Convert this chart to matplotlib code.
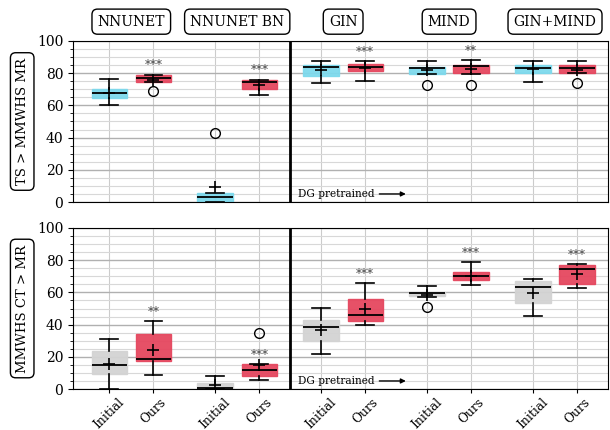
import numpy as np
import matplotlib
matplotlib.use('Agg')
import matplotlib.pyplot as plt
from matplotlib.ticker import MultipleLocator

plt.rcParams['font.family'] = 'DejaVu Serif'

methods = ['NNUNET', 'NNUNET BN', 'GIN', 'MIND', 'GIN+MIND']
tick_names = ['Initial', 'Ours']
rows = ['TS > MMWHS MR', 'MMWHS CT > MR']

# per row: [Initial, Ours] for each method -> 10 boxes
# TS > MMWHS MR
top_q1 = [64.6, 74.4, 0.0, 70.2, 78.4, 81.3, 79.8, 80.2, 80.0, 80.2]
top_med = [67.5, 76.9, 3.3, 74.8, 83.6, 84.0, 83.1, 84.6, 83.1, 83.3]
top_q3 = [70.2, 78.6, 5.9, 76.0, 85.0, 85.9, 83.8, 85.2, 85.0, 84.8]
top_lo = [60.2, 74.4, 0.0, 66.3, 74.2, 75.4, 79.4, 79.8, 74.6, 80.2]
top_hi = [76.7, 79.0, 5.8, 76.0, 87.3, 87.5, 87.3, 87.9, 87.5, 87.3]
top_mean = [67.5, 75.6, 9.2, 72.9, 81.9, 83.1, 81.7, 82.3, 82.3, 82.1]
top_fliers = [[], [69.2], [42.7], [], [], [], [72.9], [72.7], [], [74.2]]
top_stars = ['', '***', '', '***', '', '***', '', '**', '', '']

# MMWHS CT > MR
bot_q1 = [9.5, 17.2, 0.0, 8.1, 30.0, 42.2, 57.7, 67.5, 53.2, 65.0]
bot_med = [14.9, 18.8, 0.6, 12.0, 38.5, 46.1, 59.4, 69.9, 63.1, 74.3]
bot_q3 = [23.6, 34.3, 3.5, 15.3, 42.9, 55.9, 60.4, 72.7, 67.3, 77.2]
bot_lo = [0.0, 8.9, 0.0, 5.4, 21.7, 39.5, 57.3, 64.3, 45.5, 62.5]
bot_hi = [30.8, 42.2, 7.8, 15.3, 50.3, 65.6, 64.0, 78.6, 68.5, 77.4]
bot_mean = [15.7, 24.2, 2.5, 14.9, 36.8, 49.7, 58.6, 70.4, 59.8, 71.4]
bot_fliers = [[], [], [], [34.8], [], [], [51.1], [], [], []]
bot_stars = ['', '**', '', '***', '', '***', '', '***', '', '***']

cyan = '#7dd9ec'
red = '#e5475f'
grey = '#d3d3d3'

positions = []
for i in range(len(methods)):
    positions += [2.4 * i, 2.4 * i + 1]

fig = plt.figure(figsize=(6.1, 4.3), dpi=100)
ax1 = fig.add_axes([0.1197, 0.5302, 0.877, 0.3745])
ax2 = fig.add_axes([0.1197, 0.0953, 0.877, 0.3745])


def draw(ax, q1, med, q3, lo, hi, mean, fliers, stars, init_color):
    stats = []
    for k in range(len(q1)):
        stats.append(dict(q1=q1[k], med=med[k], q3=q3[k], whislo=lo[k],
                          whishi=hi[k], mean=mean[k], fliers=fliers[k]))
    bp = ax.bxp(stats, positions=positions, widths=0.8, patch_artist=True,
                showmeans=True, manage_ticks=False,
                meanprops=dict(marker='+', markeredgecolor='black', markersize=8,
                               markeredgewidth=1.2),
                medianprops=dict(color='black', linewidth=1.3),
                whiskerprops=dict(color='black', linewidth=1.2),
                capprops=dict(color='black', linewidth=1.2),
                flierprops=dict(marker='o', markerfacecolor='none',
                                markeredgecolor='black', markersize=7))
    for k, box in enumerate(bp['boxes']):
        c = init_color if k % 2 == 0 else red
        box.set_facecolor(c)
        box.set_edgecolor(c)
        box.set_alpha(0.95)
        box.set_linewidth(1)
    for k, s in enumerate(stars):
        if s:
            ax.text(positions[k], hi[k] + 1.5, s, ha='center', va='bottom',
                    fontsize=8.5, color='#444444')

    ax.set_ylim(0, 100)
    ax.set_xlim(-0.82, 11.3)
    ax.yaxis.set_major_locator(MultipleLocator(20))
    ax.yaxis.set_minor_locator(MultipleLocator(5))
    ax.set_xticks(positions)
    ax.grid(True, which='major', axis='y', color='#b0b0b0', linewidth=1)
    ax.grid(True, which='minor', axis='y', color='#d8d8d8', linewidth=0.8)
    ax.grid(True, which='major', axis='x', color='#cccccc', linewidth=0.8)
    ax.set_axisbelow(True)
    ax.axvline(4.1, color='black', linewidth=2)
    ax.annotate('', xy=(6.72, 5), xytext=(6.12, 5),
                arrowprops=dict(arrowstyle='-|>', color='black', lw=1,
                                mutation_scale=7, shrinkA=0, shrinkB=0))
    ax.text(4.28, 5, 'DG pretrained', fontsize=7.6, va='center', ha='left')
    ax.tick_params(axis='y', labelsize=10)


draw(ax1, top_q1, top_med, top_q3, top_lo, top_hi, top_mean, top_fliers,
     top_stars, cyan)
draw(ax2, bot_q1, bot_med, bot_q3, bot_lo, bot_hi, bot_mean, bot_fliers,
     bot_stars, grey)

ax1.tick_params(axis='x', labelbottom=False, length=0)
ax2.set_xticklabels(tick_names * len(methods), rotation=45, ha='center',
                    fontsize=8.8)
ax2.tick_params(axis='x', pad=1.5, length=3)

box_style = dict(boxstyle='round,pad=0.4', facecolor='white',
                 edgecolor='black', linewidth=1)
for i, m in enumerate(methods):
    ax1.text(2.4 * i + 0.5, 112, m, ha='center', va='center', fontsize=10,
             bbox=box_style, clip_on=False)

for ax, r in zip([ax1, ax2], rows):
    ax.text(-0.095, 0.5, r, transform=ax.transAxes, rotation=90,
            ha='center', va='center', fontsize=9.5, bbox=box_style)

fig.savefig('out.png', dpi=100)
